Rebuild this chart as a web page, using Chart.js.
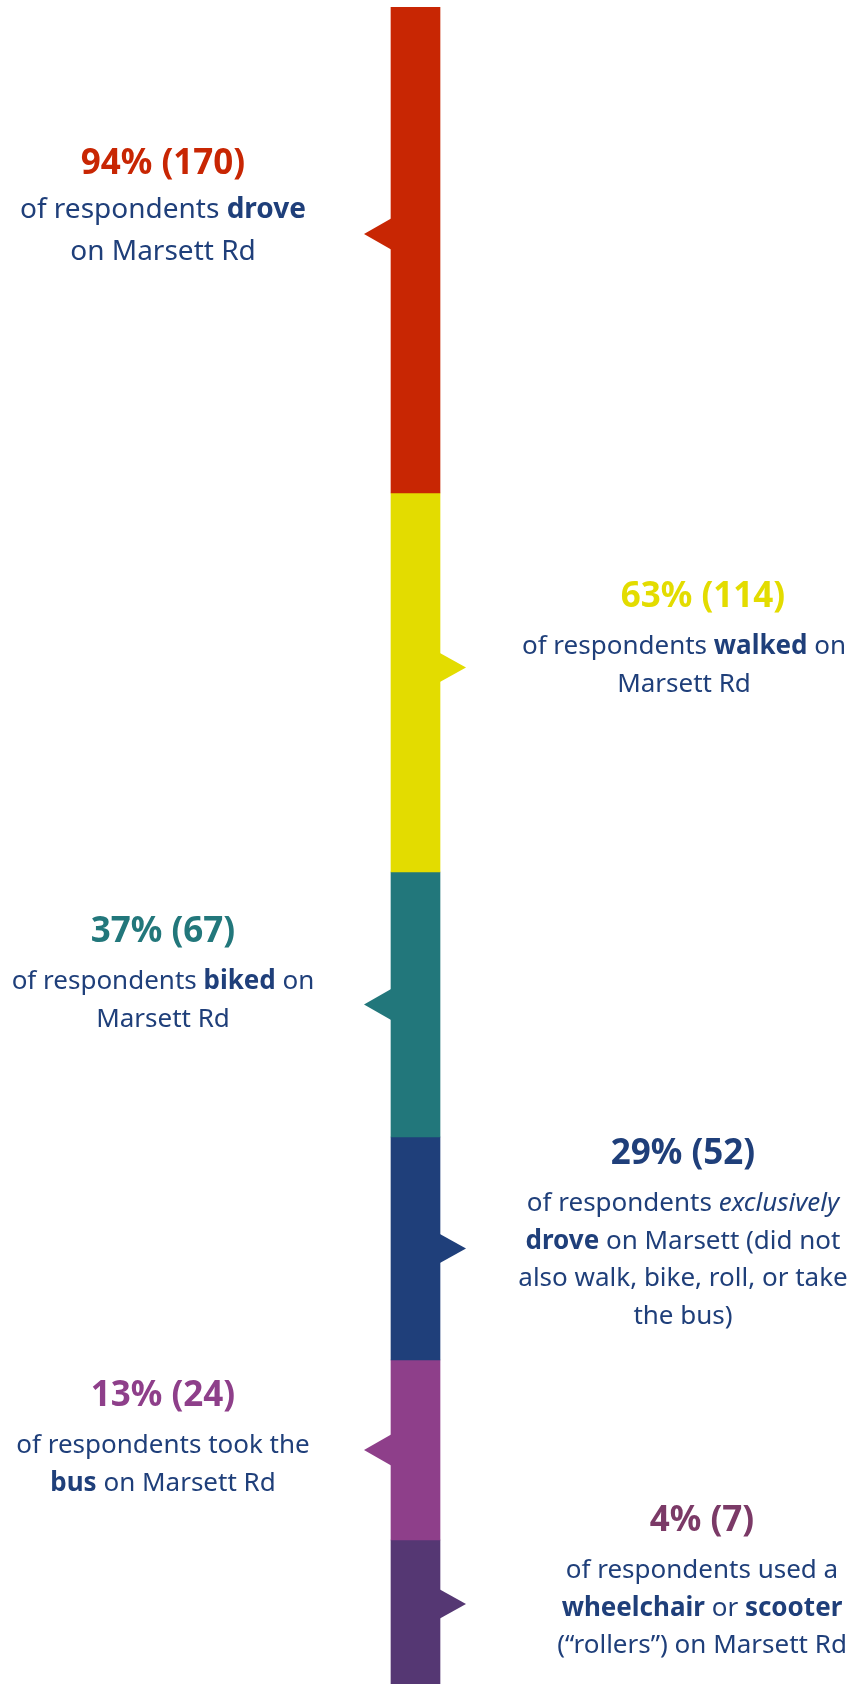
<!DOCTYPE html>
<html>
<head>
<meta charset="utf-8">
<script src="https://cdn.jsdelivr.net/npm/chart.js@4.4.1/dist/chart.umd.min.js"></script>
<style>
    body { margin: 0; background: #fff; font-family: "Noto Sans", sans-serif; }
    #wrap { position: relative; width: 855px; height: 1684px; overflow: hidden; }
    #chart { position: absolute; left: 0; top: 0; }
    .lbl { position: absolute; width: 460px; text-align: center; white-space: nowrap; color: #1f3f7a; font-size: 26px; line-height: 37.5px; }
    .lbl .t { font-weight: 700; font-size: 35px; line-height: 42px; margin-bottom: 11px; white-space: pre; }
    .lbl b { font-weight: 700; }
</style>
</head>
<body>
<div id="wrap">
    <canvas id="chart" width="855" height="1684"></canvas>
</div>
<script>
// Travel modes on Marsett Rd - survey respondents
var modes = ['drove', 'walked', 'biked', 'exclusively drove', 'took the bus', 'wheelchair / scooter'];
var percents = [94, 63, 37, 29, 13, 4];
var counts = [170, 114, 67, 52, 24, 7];
// segment lengths as drawn in the graphic (relative units)
var segmentSize = [486, 379, 265, 223, 180, 144];
var descriptions = [
    'of respondents <b>drove</b><br>on Marsett Rd',
    'of respondents <b>walked</b> on<br>Marsett Rd',
    'of respondents <b>biked</b> on<br>Marsett Rd',
    'of respondents <i>exclusively</i><br><b>drove</b> on Marsett (did not<br>also walk, bike, roll, or take<br>the bus)',
    'of respondents took the<br><b>bus</b> on Marsett Rd',
    'of respondents used a<br><b>wheelchair</b> or <b>scooter</b><br>(\u201crollers\u201d) on Marsett Rd'
];

// styling / layout
var barColors = ['#c82603', '#e3dc00', '#22777b', '#1f3f7a', '#8e3f8a', '#553773'];
var titleColors = ['#c82603', '#e3dc00', '#22777b', '#1f3f7a', '#8e3f8a', '#7b3a67'];
var sides = ['left', 'right', 'left', 'right', 'left', 'right'];
var arrowShift = [-16, -15, 0, 0, 0, -8];
var labelLayout = [
    { cx: 163, top: 140, tx: 0, big: true },
    { cx: 684, top: 573, tx: 19 },
    { cx: 163, top: 908, tx: 0 },
    { cx: 683, top: 1130, tx: 0 },
    { cx: 163, top: 1372, tx: 0 },
    { cx: 702, top: 1497, tx: 0 }
];

var total = segmentSize.reduce(function (a, b) { return a + b; }, 0);

// Arrow notches beside each segment
var arrowPlugin = {
    id: 'arrows',
    afterDatasetsDraw: function (chart) {
        var ctx = chart.ctx;
        chart.data.datasets.forEach(function (ds, i) {
            var bar = chart.getDatasetMeta(i).data[0];
            var p = bar.getProps(['x', 'y', 'base', 'width'], true);
            var mid = (p.y + p.base) / 2 + arrowShift[i];
            var half = p.width / 2;
            ctx.save();
            ctx.fillStyle = barColors[i];
            ctx.beginPath();
            if (sides[i] === 'left') {
                ctx.moveTo(p.x - half + 1, mid - 16);
                ctx.lineTo(p.x - half - 27, mid);
                ctx.lineTo(p.x - half + 1, mid + 16);
            } else {
                ctx.moveTo(p.x + half - 1, mid - 15);
                ctx.lineTo(p.x + half + 26, mid);
                ctx.lineTo(p.x + half - 1, mid + 15);
            }
            ctx.closePath();
            ctx.fill();
            ctx.restore();
        });
    }
};

new Chart(document.getElementById('chart'), {
    type: 'bar',
    data: {
        labels: ['Marsett Rd'],
        datasets: modes.map(function (m, i) {
            return {
                label: m,
                data: [segmentSize[i]],
                backgroundColor: barColors[i],
                borderWidth: 0,
                barThickness: 49
            };
        })
    },
    options: {
        responsive: false,
        animation: false,
        layout: { padding: { top: 7, right: 24, bottom: 0, left: 0 } },
        scales: {
            x: { stacked: true, display: false },
            y: { stacked: true, display: false, reverse: true, min: 0, max: total }
        },
        plugins: { legend: { display: false }, tooltip: { enabled: false } }
    },
    plugins: [arrowPlugin]
});

// Text callouts
var wrap = document.getElementById('wrap');
labelLayout.forEach(function (l, i) {
    var div = document.createElement('div');
    div.className = 'lbl';
    div.style.left = (l.cx - 230) + 'px';
    div.style.top = l.top + 'px';
    if (l.big) { div.style.fontSize = '28px'; div.style.lineHeight = '42px'; }
    var t = document.createElement('div');
    t.className = 't';
    t.style.color = titleColors[i];
    t.style.transform = 'translateX(' + l.tx + 'px)';
    if (l.big) t.style.marginBottom = '4px';
    t.textContent = percents[i] + '% (' + counts[i] + ')';
    div.appendChild(t);
    var body = document.createElement('div');
    body.innerHTML = descriptions[i];
    div.appendChild(body);
    wrap.appendChild(div);
});
</script>
</body>
</html>
